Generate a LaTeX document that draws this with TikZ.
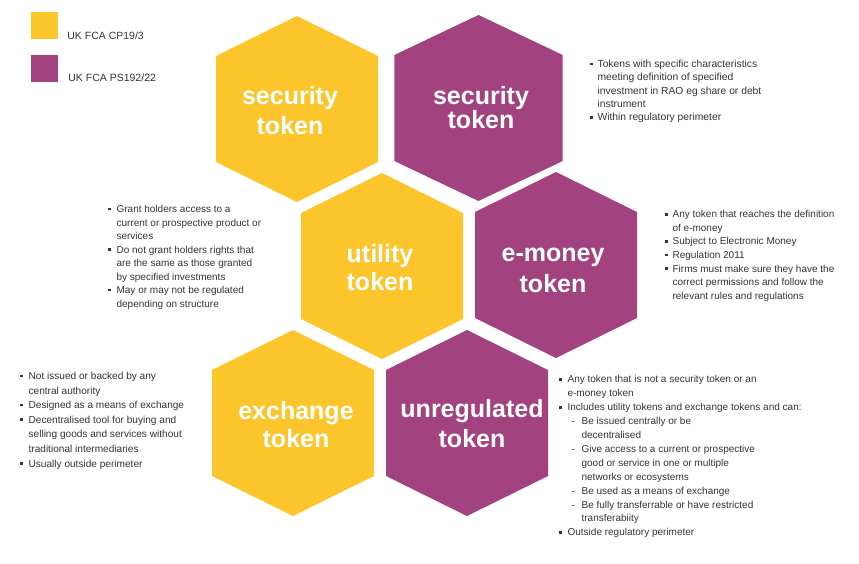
\documentclass[tikz,border=0pt]{standalone}
\usepackage{fontspec}
\setmainfont{Liberation Sans}
\usetikzlibrary{positioning}

\definecolor{fcayellow}{HTML}{FDC52C}
\definecolor{fcapurple}{HTML}{A2427F}
\definecolor{bodygray}{HTML}{333333}

\newcommand{\bul}{\raisebox{2.2pt}{\rule{2.4pt}{2.6pt}}}
\newcommand{\dsh}{\hspace{4pt}\makebox[10pt][l]{-}}
\newcommand{\dind}{\hspace{14pt}}

\begin{document}
\begin{tikzpicture}[x=1pt, y=-1pt,
    hexa/.pic={\path[pic actions] (0,-93) -- (81,-53) -- (81,53) -- (0,93) -- (-81,53) -- (-81,-53) -- cycle;},
    hexy/.style={fill=fcayellow},
    hexp/.style={fill=fcapurple},
    title/.style={text=white, font=\fontsize{25}{30}\bfseries, align=center, inner sep=0pt},
    legbox/.style={minimum size=27pt, inner sep=0pt},
    legtext/.style={font=\fontsize{10.5}{12}\selectfont, text=bodygray, inner sep=0pt, anchor=base west},
    notes/.style={font=\fontsize{10}{13.5}\selectfont, text=bodygray, inner sep=0pt, anchor=north west}]
    \useasboundingbox (0,0) rectangle (859,563);

    % legend
    \node[legbox, fill=fcayellow] (leg1) at (44.5,25.5) {};
    \node[legbox, fill=fcapurple] (leg2) [below = 16pt of leg1] {};
    \node[legtext] (legt1) at ([xshift=9pt]leg1.south east) {UK FCA CP19/3};
    \node[legtext] (legt2) at ([xshift=10pt, yshift=1pt]leg2.south east) {UK FCA PS192/22};

    % hexagons
    \pic[hexy] at (297,109) {hexa};
    \pic[hexp, xscale=1.04] at (478.5,108) {hexa};
    \pic[hexy] at (382,266) {hexa};
    \pic[hexp] at (556,265) {hexa};
    \pic[hexy] at (293,423) {hexa};
    \pic[hexp] at (467,423) {hexa};

    \node[title] (secy) at (290,111) {security\\token};
    \node[title, font=\fontsize{25}{24}\bfseries] (secp) at (481,107.5) {security\\token};
    \node[title, font=\fontsize{25}{28}\bfseries] (util) at (380,267.5) {utility\\token};
    \node[title, font=\fontsize{25}{31}\bfseries] (emon) at (553,270.5) {e-money\\token};
    \node[title, font=\fontsize{25}{28}\bfseries] (exch) at (296,424.5) {exchange\\token};
    \node[title] (unreg) at (472,423.5) {unregulated\\token};

    % notes
    \node[notes, font=\fontsize{10.3}{13.3}\selectfont] (note_secp) at (590,58) {%
      \begin{tabular}{@{}l@{\hspace{5pt}}l@{}}
        \bul & Tokens with specific characteristics\\
             & meeting definition of specified\\
             & investment in RAO eg share or debt\\
             & instrument\\
        \bul & Within regulatory perimeter
      \end{tabular}};
    \node[notes] (note_util) at (108,203) {%
      \begin{tabular}{@{}l@{\hspace{6pt}}l@{}}
        \bul & Grant holders access to a\\
             & current or prospective product or\\
             & services\\
        \bul & Do not grant holders rights that\\
             & are the same as those granted\\
             & by specified investments\\
        \bul & May or may not be regulated\\
             & depending on structure
      \end{tabular}};
    \node[notes, font=\fontsize{10}{13.6}\selectfont] (note_emon) at (665,208) {%
      \begin{tabular}{@{}l@{\hspace{5pt}}l@{}}
        \bul & Any token that reaches the definition\\
             & of e-money\\
        \bul & Subject to Electronic Money\\
        \bul & Regulation 2011\\
        \bul & Firms must make sure they have the\\
             & correct permissions and follow the\\
             & relevant rules and regulations
      \end{tabular}};
    \node[notes, font=\fontsize{10.1}{14.6}\selectfont] (note_exch) at (20,369) {%
      \begin{tabular}{@{}l@{\hspace{6pt}}l@{}}
        \bul & Not issued or backed by any\\
             & central authority\\
        \bul & Designed as a means of exchange\\
        \bul & Decentralised tool for buying and\\
             & selling goods and services without\\
             & traditional intermediaries\\
        \bul & Usually outside perimeter
      \end{tabular}};
    \node[notes, font=\fontsize{10}{13.9}\selectfont] (note_unreg) at (559,373) {%
      \begin{tabular}{@{}l@{\hspace{6pt}}l@{}}
        \bul & Any token that is not a security token or an\\
             & e-money token\\
        \bul & Includes utility tokens and exchange tokens and can:\\
             & \dsh Be issued centrally or be\\
             & \dind decentralised\\
             & \dsh Give access to a current or prospective\\
             & \dind good or service in one or multiple\\
             & \dind networks or ecosystems\\
             & \dsh Be used as a means of exchange\\
             & \dsh Be fully transferrable or have restricted\\
             & \dind transferabiity\\
        \bul & Outside regulatory perimeter
      \end{tabular}};
\end{tikzpicture}
\end{document}
